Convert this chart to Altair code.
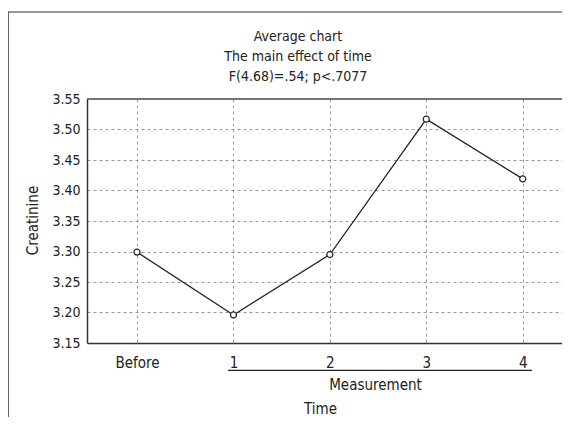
import altair as alt
import pandas as pd

categories = ["Before", "1", "2", "3", "4"]
values = [3.299, 3.196, 3.295, 3.517, 3.419]
y_ticks = [3.15, 3.20, 3.25, 3.30, 3.35, 3.40, 3.45, 3.50, 3.55]
title_lines = ["Average chart", "The main effect of time", "F(4.68)=.54; p<.7077"]
y_title = "Creatinine"
x_title = "Time"
group_label = "Measurement"

df = pd.DataFrame({"time": categories, "value": values})
one = pd.DataFrame({"k": [0]})

FONT = "DejaVu Sans Condensed, sans-serif"
FS = 15
TXT = "#222222"
W, H = 475, 244

x_enc = alt.X(
    "time:N", sort=categories,
    scale=alt.Scale(type="point", padding=0.463, align=0.56),
    axis=alt.Axis(
        title=x_title, labelAngle=0, ticks=False, tickSize=0, labelPadding=12,
        labelFontSize=FS, labelColor=TXT, labelFont=FONT, labelBaseline="top",
        domainColor="#333333", domainWidth=1.5,
        grid=True, gridDash=[3, 3], gridColor="#9a9a9a", gridWidth=1,
        titleFontSize=FS, titleFont=FONT, titleFontWeight="normal", titleColor=TXT,
        titleX=233, titleY=70, titleBaseline="alphabetic", titleAlign="center",
    ),
)
y_enc = alt.Y(
    "value:Q",
    scale=alt.Scale(domain=[3.15, 3.55], nice=False, zero=False),
    axis=alt.Axis(
        title=y_title, values=y_ticks, format=".2f", ticks=False, tickSize=0, labelPadding=7,
        labelFontSize=14, labelColor=TXT, labelFont=FONT,
        domainColor="#333333", domainWidth=1.5,
        grid=True, gridDash=[3, 3], gridColor="#9a9a9a", gridWidth=1,
        gridOpacity={"condition": {"test": "datum.value < 3.16 || datum.value > 3.54", "value": 0}, "value": 1},
        titleFontSize=FS, titleFont=FONT, titleFontWeight="normal", titleColor=TXT,
        titleX=-50, titleY=121, titleBaseline="alphabetic", titleAlign="center", titleAngle=270,
    ),
)

line = alt.Chart(df).mark_line(color=TXT, strokeWidth=1.3).encode(x=x_enc, y=y_enc)
pts = alt.Chart(df).mark_point(shape="circle", filled=True, fill="white", stroke=TXT,
                               strokeWidth=1.2, size=36, opacity=1).encode(x=x_enc, y=y_enc)

frame_left = alt.Chart(one).mark_rule(color="#333333", strokeWidth=1.5).encode(
    x=alt.value(-79), y=alt.value(-87.75), y2=alt.value(420))
frame_top = alt.Chart(one).mark_rule(color="#777777", strokeWidth=1.5).encode(
    x=alt.value(-79.75), x2=alt.value(620), y=alt.value(-87))
top_border = alt.Chart(one).mark_rule(color="#444444", strokeWidth=1.5).encode(
    x=alt.value(0), x2=alt.value(W), y=alt.value(0))
underline = alt.Chart(one).mark_rule(color=TXT, strokeWidth=1.2).encode(
    x=alt.value(141), x2=alt.value(445), y=alt.value(271.3))
group_text = alt.Chart(one).mark_text(text=group_label, font=FONT, fontSize=FS, color=TXT,
                                      align="center", baseline="alphabetic").encode(
    x=alt.value(288.5), y=alt.value(291))
title_text = alt.Chart(one).mark_text(text=title_lines, font=FONT, fontSize=14, color=TXT,
                                      lineHeight=20, align="center", baseline="alphabetic").encode(
    x=alt.value(211), y=alt.value(-58))

chart = alt.layer(frame_left, frame_top, top_border, line, pts, underline, group_text, title_text).properties(
    width=W, height=H,
    autosize=alt.AutoSizeParams(type="none"),
    padding={"left": 79, "top": 91, "right": 0, "bottom": 74},
).configure_view(stroke="transparent")

chart.save("out.html", embed_options={"renderer": "svg", "actions": False})
